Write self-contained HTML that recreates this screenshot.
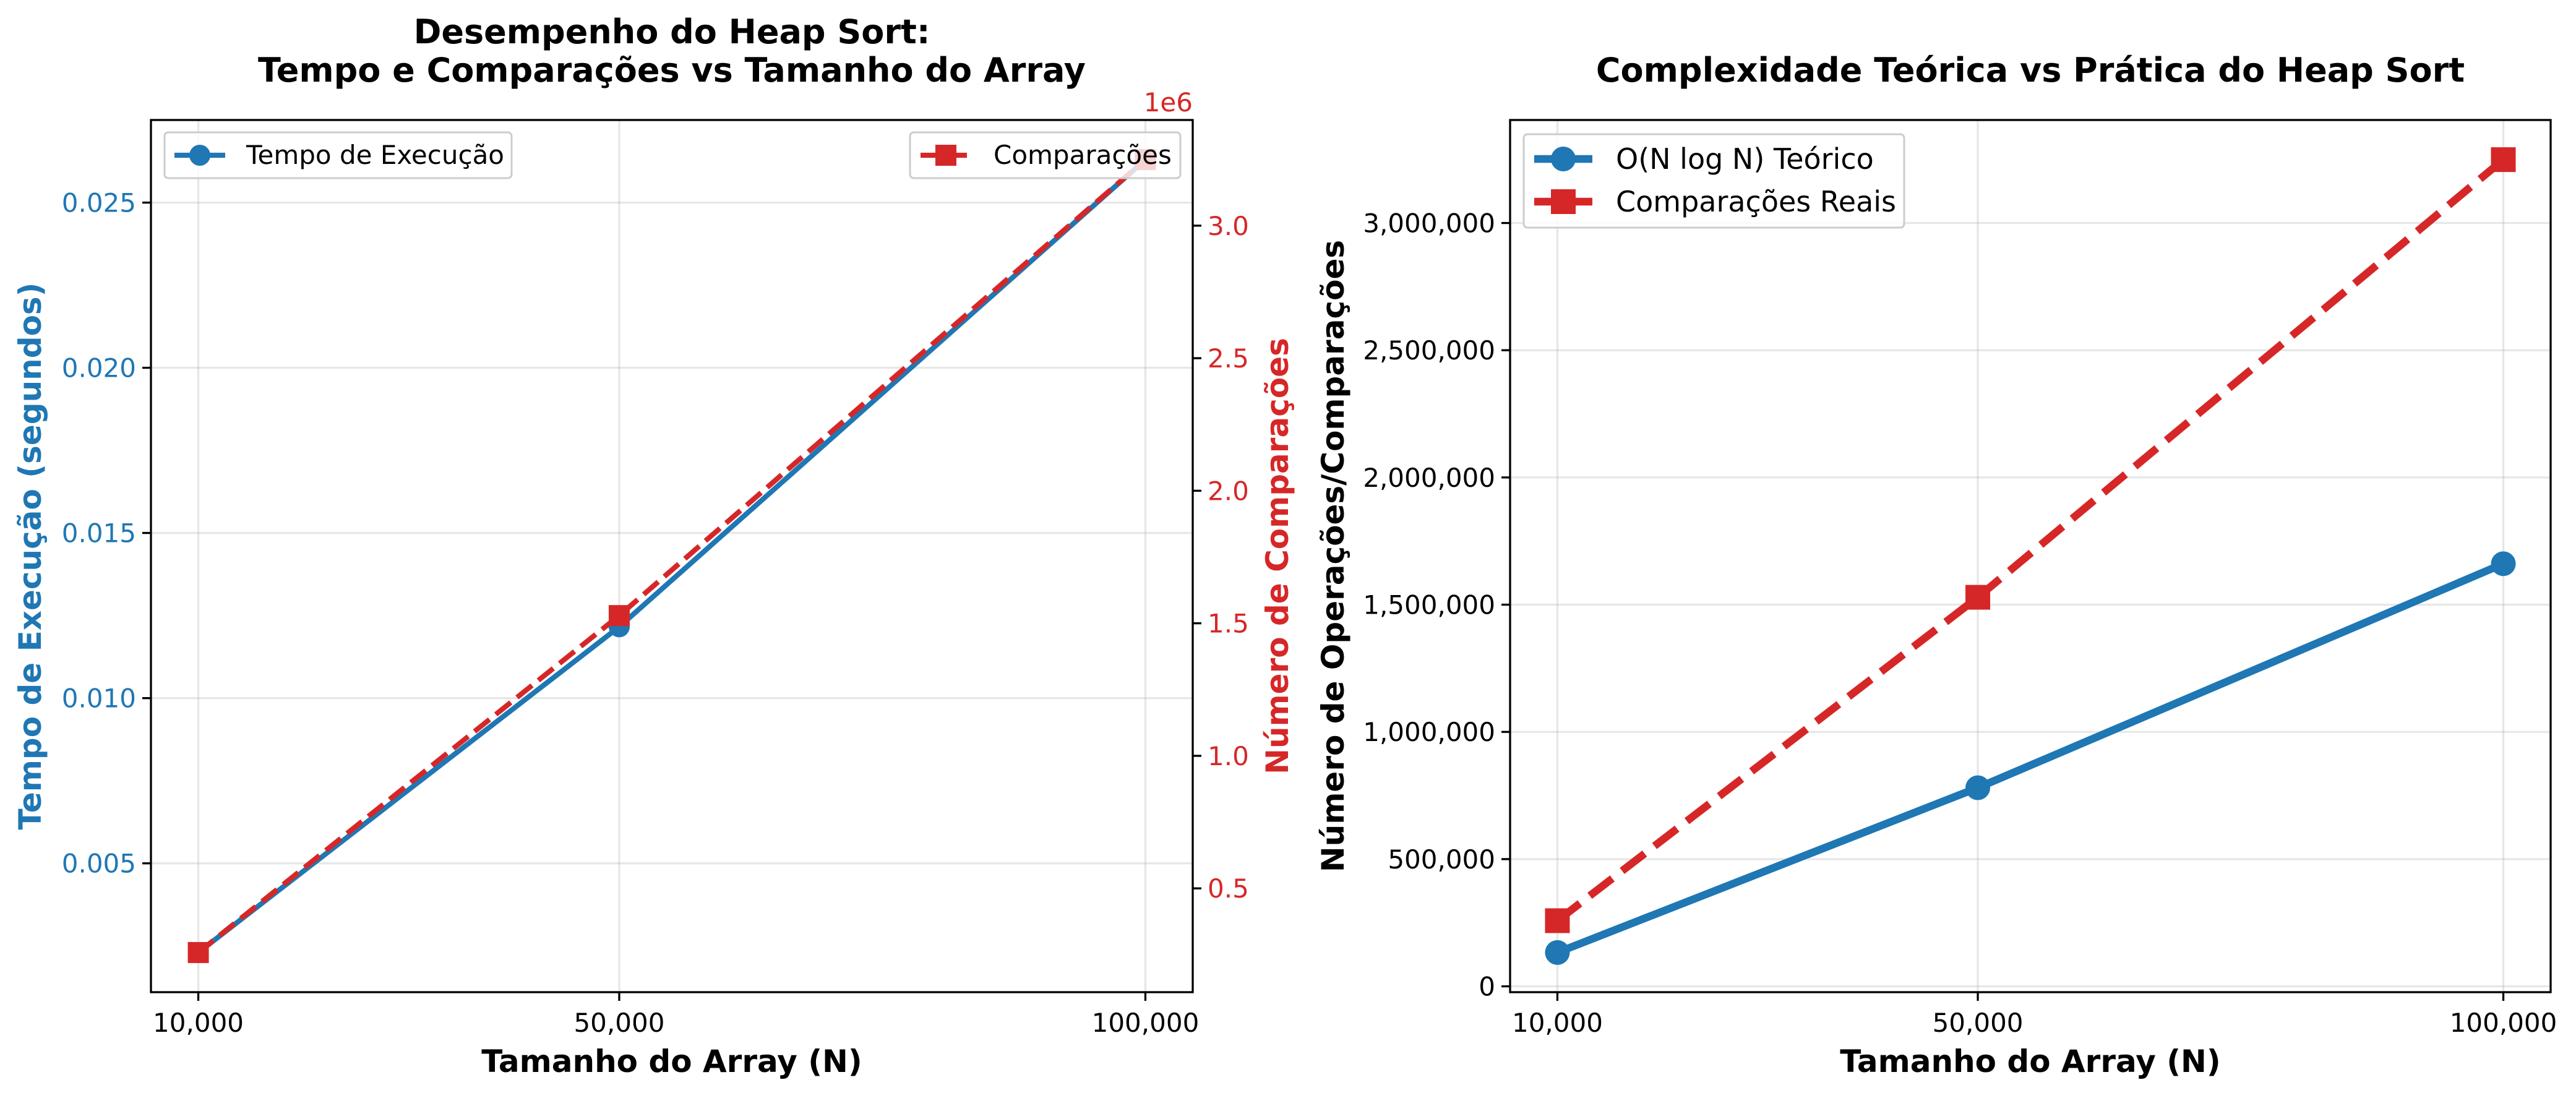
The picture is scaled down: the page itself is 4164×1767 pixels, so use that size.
<!DOCTYPE html>
<html><head><meta charset="utf-8"><style>
html,body{margin:0;padding:0;background:#fff}
svg{display:block;font-family:"DejaVu Sans","Liberation Sans",sans-serif}
</style></head><body>
<svg id="fig" width="4164" height="1767" viewBox="0 0 4164 1767" xmlns="http://www.w3.org/2000/svg">
<rect width="4164" height="1767" fill="#fff"/>
<g id="left"></g>
<g id="right"></g>
</svg>
<script>
const sizes = [10000, 50000, 100000];
const sizeLabels = ["10,000", "50,000", "100,000"];
const times = [0.0023, 0.01216, 0.0263];
const comparisons = [258000, 1529000, 3249000];
const theoretical = [132877, 780482, 1660964];
const timeTicks = [0.005, 0.010, 0.015, 0.020, 0.025];
const compTicksLeft = [0.5, 1.0, 1.5, 2.0, 2.5, 3.0];
const rightTicks = [0, 500000, 1000000, 1500000, 2000000, 2500000, 3000000];

const NS = "http://www.w3.org/2000/svg";
function el(parent, tag, attrs, text){
  const e = document.createElementNS(NS, tag);
  for (const k in attrs) e.setAttribute(k, attrs[k]);
  if (text !== undefined) e.textContent = text;
  parent.appendChild(e);
  return e;
}
function ext(arr){const mn=Math.min(...arr),mx=Math.max(...arr),p=(mx-mn)*0.05;return [mn-p,mx+p];}
function scale(d,r){return v=>r[0]+(v-d[0])/(d[1]-d[0])*(r[1]-r[0]);}
function fmt(n){return n.toLocaleString("en-US");}

const BLUE="#1f77b4", RED="#d62728";
const TOP=194, BOT=1604;

// ---------- LEFT CHART ----------
(function(){
  const g=document.getElementById("left");
  const L=244,R=1928;
  const x=scale(ext(sizes),[L,R]);
  const yT=scale(ext(times),[BOT,TOP]);
  const yC=scale(ext(comparisons),[BOT,TOP]);
  const gridG=el(g,"g",{});
  
  
  sizes.forEach((s,i)=>{
    el(gridG,"line",{x1:x(s),x2:x(s),y1:TOP,y2:BOT,stroke:"#b0b0b0","stroke-opacity":0.3,"stroke-width":3.3});
    el(g,"line",{x1:x(s),x2:x(s),y1:BOT,y2:BOT+14,stroke:"#000","stroke-width":3.3});
    const t=el(g,"text",{x:x(s),y:1668,"font-size":42,"text-anchor":"middle"},sizeLabels[i]);
    
    
  });
  timeTicks.forEach(v=>{
    el(gridG,"line",{x1:L,x2:R,y1:yT(v),y2:yT(v),stroke:"#b0b0b0","stroke-opacity":0.3,"stroke-width":3.3});
    el(g,"line",{x1:L-14,x2:L,y1:yT(v),y2:yT(v),stroke:"#000","stroke-width":3.3});
    const t=el(g,"text",{x:L-24,y:yT(v)+15,"font-size":42,"text-anchor":"end",fill:BLUE},v.toFixed(3));
    
    
  });
  const cScale=1e6;
  compTicksLeft.forEach(v=>{
    el(g,"line",{x1:R,x2:R+14,y1:yC(v*cScale),y2:yC(v*cScale),stroke:"#000","stroke-width":3.3});
    const t=el(g,"text",{x:R+24,y:yC(v*cScale)+15,"font-size":42,fill:RED},v.toFixed(1));
    
    
  });
  const off=el(g,"text",{x:R,y:180,"font-size":42,"text-anchor":"end",fill:RED},"1e6");
  
  
  const tl=el(g,"polyline",{points:sizes.map((s,i)=>x(s)+","+yT(times[i])).join(" "),fill:"none",stroke:BLUE,"stroke-width":8.3,"stroke-linejoin":"round"});
  
  
  sizes.forEach((s,i)=>{
    const c=el(g,"circle",{cx:x(s),cy:yT(times[i]),r:17,fill:BLUE});
    
    
  });
  const cl=el(g,"polyline",{points:sizes.map((s,i)=>x(s)+","+yC(comparisons[i])).join(" "),fill:"none",stroke:RED,"stroke-width":8.3,"stroke-dasharray":"31 13"});
  
  
  sizes.forEach((s,i)=>{
    const r=el(g,"rect",{x:x(s)-17,y:yC(comparisons[i])-17,width:34,height:34,fill:RED});
    
    
  });
  el(g,"rect",{x:L,y:TOP,width:R-L,height:BOT-TOP,fill:"none",stroke:"#000","stroke-width":3.3});
  const lg1=el(g,"g",{});
  
  
  el(lg1,"rect",{x:266,y:214,width:561,height:74,rx:6,fill:"#fff","fill-opacity":0.8,stroke:"#ccc","stroke-width":3});
  el(lg1,"line",{x1:282,x2:364,y1:251,y2:251,stroke:BLUE,"stroke-width":8.3});
  el(lg1,"circle",{cx:323,cy:251,r:17,fill:BLUE});
  el(lg1,"text",{x:398,y:265,"font-size":42},"Tempo de Execução");
  const lg2=el(g,"g",{});
  
  
  el(lg2,"rect",{x:1471,y:214,width:437,height:74,rx:6,fill:"#fff","fill-opacity":0.8,stroke:"#ccc","stroke-width":3});
  el(lg2,"line",{x1:1488,x2:1570,y1:251,y2:251,stroke:RED,"stroke-width":8.3,"stroke-dasharray":"31 13"});
  el(lg2,"rect",{x:1512,y:234,width:34,height:34,fill:RED});
  el(lg2,"text",{x:1606,y:265,"font-size":42},"Comparações");
  const t1=el(g,"text",{x:1086,y:70,"font-size":54,"font-weight":"bold","text-anchor":"middle"},"Desempenho do Heap Sort:");
  
  
  const t2=el(g,"text",{x:1086,y:132,"font-size":54,"font-weight":"bold","text-anchor":"middle"},"Tempo e Comparações vs Tamanho do Array");
  
  
  const xl=el(g,"text",{x:1086,y:1733,"font-size":50,"font-weight":"bold","text-anchor":"middle"},"Tamanho do Array (N)");
  
  
  const yl=el(g,"text",{x:0,y:0,"font-size":50,"font-weight":"bold","text-anchor":"middle",fill:BLUE,transform:"translate(66,899) rotate(-90)"},"Tempo de Execução (segundos)");
  
  
  const y2=el(g,"text",{x:0,y:0,"font-size":50,"font-weight":"bold","text-anchor":"middle",fill:RED,transform:"translate(2082,899) rotate(-90)"},"Número de Comparações");
  
  
})();

// ---------- RIGHT CHART ----------
(function(){
  const g=document.getElementById("right");
  const L=2441,R=4123;
  const x=scale(ext(sizes),[L,R]);
  const y=scale(ext(theoretical.concat(comparisons)),[BOT,TOP]);
  const gridG=el(g,"g",{});
  
  
  sizes.forEach((s,i)=>{
    el(gridG,"line",{x1:x(s),x2:x(s),y1:TOP,y2:BOT,stroke:"#b0b0b0","stroke-opacity":0.3,"stroke-width":3.3});
    el(g,"line",{x1:x(s),x2:x(s),y1:BOT,y2:BOT+14,stroke:"#000","stroke-width":3.3});
    const t=el(g,"text",{x:x(s),y:1668,"font-size":42,"text-anchor":"middle"},sizeLabels[i]);
    
    
  });
  rightTicks.forEach(v=>{
    el(gridG,"line",{x1:L,x2:R,y1:y(v),y2:y(v),stroke:"#b0b0b0","stroke-opacity":0.3,"stroke-width":3.3});
    el(g,"line",{x1:L-14,x2:L,y1:y(v),y2:y(v),stroke:"#000","stroke-width":3.3});
    const t=el(g,"text",{x:L-24,y:y(v)+15,"font-size":42,"text-anchor":"end"},fmt(v));
    
    
  });
  const cl=el(g,"polyline",{points:sizes.map((s,i)=>x(s)+","+y(comparisons[i])).join(" "),fill:"none",stroke:RED,"stroke-width":12.5,"stroke-dasharray":"46 20"});
  
  
  sizes.forEach((s,i)=>{
    const r=el(g,"rect",{x:x(s)-20,y:y(comparisons[i])-20,width:40,height:40,fill:RED});
    
    
  });
  const tl=el(g,"polyline",{points:sizes.map((s,i)=>x(s)+","+y(theoretical[i])).join(" "),fill:"none",stroke:BLUE,"stroke-width":12.5,"stroke-linejoin":"round"});
  
  
  sizes.forEach((s,i)=>{
    const c=el(g,"circle",{cx:x(s),cy:y(theoretical[i]),r:20,fill:BLUE});
    
    
  });
  el(g,"rect",{x:L,y:TOP,width:R-L,height:BOT-TOP,fill:"none",stroke:"#000","stroke-width":3.3});
  const lg=el(g,"g",{});
  
  
  el(lg,"rect",{x:2463,y:217,width:615,height:151,rx:6,fill:"#fff","fill-opacity":0.8,stroke:"#ccc","stroke-width":3});
  el(lg,"line",{x1:2480,x2:2574,y1:257,y2:257,stroke:BLUE,"stroke-width":12.5});
  el(lg,"circle",{cx:2527,cy:257,r:20,fill:BLUE});
  el(lg,"text",{x:2612,y:273,"font-size":46},"O(N log N) Teórico");
  el(lg,"line",{x1:2480,x2:2574,y1:326,y2:326,stroke:RED,"stroke-width":12.5,"stroke-dasharray":"46 20"});
  el(lg,"rect",{x:2507,y:306,width:40,height:40,fill:RED});
  el(lg,"text",{x:2612,y:342,"font-size":46},"Comparações Reais");
  const t=el(g,"text",{x:3282,y:132,"font-size":54,"font-weight":"bold","text-anchor":"middle"},"Complexidade Teórica vs Prática do Heap Sort");
  
  
  const xl=el(g,"text",{x:3282,y:1733,"font-size":50,"font-weight":"bold","text-anchor":"middle"},"Tamanho do Array (N)");
  
  
  const yl=el(g,"text",{x:0,y:0,"font-size":50,"font-weight":"bold","text-anchor":"middle",transform:"translate(2172,899) rotate(-90)"},"Número de Operações/Comparações");
  
  
})();
</script>
</body></html>
